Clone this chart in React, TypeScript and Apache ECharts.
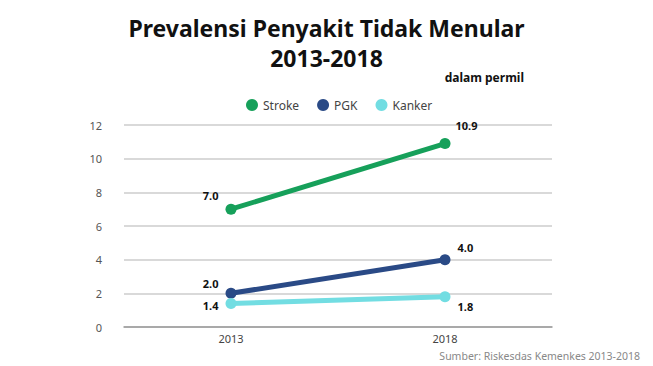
import React, { useEffect, useRef } from "react";
import * as echarts from "echarts";

const years = ["2013", "2018"];
const stroke = [7.0, 10.9];
const pgk = [2.0, 4.0];
const kanker = [1.4, 1.8];
const yTicks = [0, 2, 4, 6, 8, 10, 12];

const FONT = "'Noto Sans', 'Open Sans', sans-serif";

export default function App() {
  const ref = useRef<HTMLDivElement>(null);
  useEffect(() => {
    if (!ref.current) return;
    const chart = echarts.init(ref.current, null, { renderer: "svg" });
    const lbl = (pos: string, offset: number[]) => ({
      show: true,
      position: pos,
      offset,
      color: "#111",
      fontWeight: "bold",
      fontSize: 11,
      fontFamily: FONT,
      formatter: (p: any) => Number(p.value).toFixed(1),
    });
    const mk = (name: string, data: number[], color: string, labels: any[]) => ({
      name,
      type: "line",
      data: data.map((v, i) => ({ value: v, label: labels[i] })),
      symbol: "circle",
      symbolSize: 11,
      lineStyle: { width: 5, color },
      itemStyle: { color },
      z: name === "Stroke" ? 3 : 2,
    });
    chart.setOption({
      animation: false,
      backgroundColor: "#fff",
      title: [
        {
          text: "Prevalensi Penyakit Tidak Menular\n2013-2018",
          left: "center",
          top: 8,
          textStyle: {
            fontFamily: FONT,
            fontWeight: "bold",
            fontSize: 23,
            lineHeight: 30,
            color: "#111",
          },
        },
        {
          text: "dalam permil",
          right: 124,
          top: 66,
          textStyle: { fontFamily: FONT, fontWeight: "bold", fontSize: 12, color: "#111" },
        },
      ],
      legend: {
        top: 94,
        left: 241,
        icon: "circle",
        itemWidth: 12,
        itemHeight: 12,
        itemGap: 18,
        textStyle: { fontFamily: FONT, fontSize: 12, color: "#444" },
        data: ["Stroke", "PGK", "Kanker"],
      },
      graphic: [
        {
          type: "text",
          right: 13,
          top: 350,
          style: {
            text: "Sumber: Riskesdas Kemenkes 2013-2018",
            fill: "#888",
            font: `10.5px ${FONT}`,
          },
        },
      ],
      grid: { left: 124, right: 101, top: 125, bottom: 39 },
      xAxis: {
        type: "category",
        data: years,
        boundaryGap: true,
        axisTick: { show: false },
        axisLine: { lineStyle: { color: "#999", width: 1.5 } },
        axisLabel: { color: "#444", fontSize: 11, fontFamily: FONT, margin: 6 },
      },
      yAxis: {
        type: "value",
        min: yTicks[0],
        max: yTicks[yTicks.length - 1],
        interval: 2,
        axisLabel: { color: "#555", fontSize: 11, fontFamily: FONT, margin: 22 },
        splitLine: { lineStyle: { color: "#ccc", width: 1.5 } },
      },
      series: [
        mk("Stroke", stroke, "#16a05a", [lbl("left", [-2, -14]), lbl("right", [0, -18])]),
        mk("PGK", pgk, "#2a4a86", [lbl("left", [-2, -10]), lbl("right", [2, -12])]),
        mk("Kanker", kanker, "#72dde2", [lbl("left", [-2, 2]), lbl("right", [2, 10])]),
      ],
    });
    return () => chart.dispose();
  }, []);
  return <div ref={ref} style={{ width: 653, height: 366, position: "absolute", left: 0, top: 0 }} />;
}
